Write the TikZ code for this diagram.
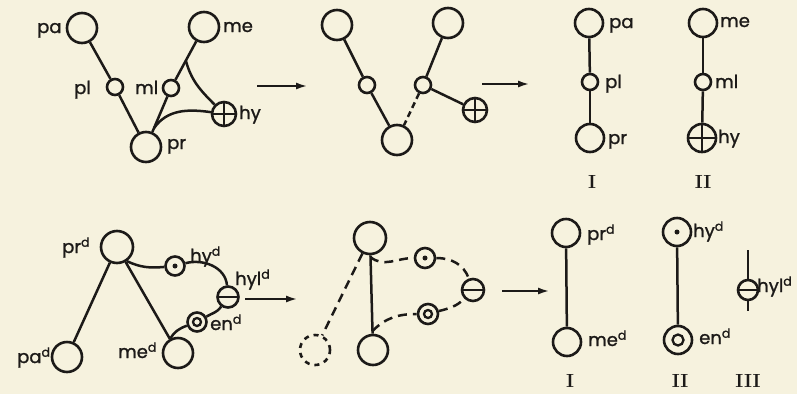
\documentclass[tikz,border=0pt]{standalone}
\usepackage{fontspec}
\newfontfamily\labfont{Poppins}[FakeBold=1.2]
\usetikzlibrary{arrows.meta,calc}
\definecolor{paper}{RGB}{246,242,222}
\definecolor{ink}{RGB}{28,26,24}
\tikzset{
  nd/.style={circle, draw=ink, line width=2.6pt, inner sep=0pt, minimum size=#1},
  withplus/.style={path picture={\draw[ink,line width=2.4pt] (path picture bounding box.north) -- (path picture bounding box.south) (path picture bounding box.west) -- (path picture bounding box.east);}},
  withminus/.style={path picture={\draw[ink,line width=2.4pt] (path picture bounding box.west) -- (path picture bounding box.east);}},
  withdot/.style={path picture={\fill[ink] (path picture bounding box.center) circle (2.5pt);}},
  withring/.style={path picture={\draw[ink,line width=2.3pt] (path picture bounding box.center) circle (#1);}},
  withring/.default=4.5pt,
  ln/.style={draw=ink, line width=2.5pt},
  dashln/.style={draw=ink, line width=2.5pt, dash pattern=on 9pt off 6pt},
  arr/.style={draw=ink, line width=2.4pt, -{Latex[length=12pt,width=7pt]}},
  lab/.style={font=\labfont\fontsize{18}{18}\selectfont, inner sep=0pt, anchor=base west, text=ink},
  num/.style={font=\bfseries\fontsize{19}{19}\selectfont, inner sep=0pt, anchor=base, text=ink},
}
\begin{document}
\begin{tikzpicture}[x=1pt,y=1pt]
\fill[paper] (0,0) rectangle (797,-394);
\useasboundingbox (0,0) rectangle (797,-394);

% ---------- top left ----------
\node[nd=30pt] (pa) at (82,-28) {};
\node[nd=30pt] (me) at (204,-27) {};
\node[nd=16pt] (pl) at (115,-87) {};
\node[nd=16pt] (ml) at (171,-88) {};
\node[nd=24pt,withplus] (hy) at (224,-114) {};
\node[nd=30pt] (pr) at (146,-147) {};
\draw[ln] (pa) -- (pl);
\draw[ln] (pl) -- (pr);
\draw[ln] (me) -- (ml);
\draw[ln] (ml) -- (pr);
\coordinate (b1) at ($(me)!0.55!(ml)$);
\coordinate (b2) at ($(ml)!0.68!(pr)$);
\draw[ln] (b1) to[out=-75,in=135] (hy);
\draw[ln] (b2) to[out=55,in=172] (hy);
\node[lab] (lpa) at (37,-33) {pa};
\node[lab] (lme) at (223,-32) {me};
\node[lab] (lpl) at (74,-94) {pl};
\node[lab] (lml) at (135,-94) {ml};
\node[lab] (lhy) at (239,-119) {hy};
\node[lab] (lpr) at (167,-149) {pr};

\coordinate (a1s) at (257,-86);
\coordinate (a1e) at (308,-86);
\draw[arr] (a1s) -- (a1e);

% ---------- top middle ----------
\node[nd=30pt] (m1) at (337,-25) {};
\node[nd=16pt] (m2) at (367,-85) {};
\node[nd=30pt] (m3) at (397,-140) {};
\node[nd=30pt] (m4) at (448,-23) {};
\node[nd=16pt] (m5) at (423,-85) {};
\node[nd=24pt,withplus] (m6) at (475,-110) {};
\draw[ln] (m1) -- (m2);
\draw[ln] (m2) -- (m3);
\draw[ln] (m4) -- (m5);
\draw[ln] (m5) -- (m6);
\draw[ln, dash pattern=on 6pt off 4pt] (m5) -- (m3);

\coordinate (a2s) at (482,-84);
\coordinate (a2e) at (530,-84);
\draw[arr] (a2s) -- (a2e);

% ---------- top right ----------
\node[nd=28pt] (rpa) at (589,-23) {};
\node[nd=16pt] (rpl) at (590,-82) {};
\node[nd=28pt] (rpr) at (590,-138) {};
\node[nd=28pt] (rme) at (703,-23) {};
\node[nd=16pt] (rml) at (703,-82) {};
\node[nd=28pt,withplus] (rhy) at (702,-138) {};
\draw[ln] (rpa) -- (rpl);
\draw[ln] (rpl) -- (rpr);
\draw[ln] (rme) -- (rml);
\draw[ln] (rml) -- (rhy);
\node[lab] (lrpa) at (609,-28) {pa};
\node[lab] (lrpl) at (605,-88) {pl};
\node[lab] (lrpr) at (608,-144) {pr};
\node[lab] (lrme) at (720,-27) {me};
\node[lab] (lrml) at (715,-88) {ml};
\node[lab] (lrhy) at (718,-143) {hy};
\node[num] (n1) at (592,-188) {I};
\node[num] (n2) at (703,-188) {II};

% ---------- bottom left ----------
\node[nd=32pt] (prd) at (117,-247) {};
\node[nd=30pt] (pad) at (67,-357) {};
\node[nd=30pt] (med) at (178,-353) {};
\node[nd=19pt,withdot] (hyd) at (175,-266) {};
\node[nd=21pt,withminus] (hyld) at (228,-297) {};
\node[nd=19pt,withring=4pt] (enD) at (197,-322) {};
\draw[ln] (prd) -- (pad);
\draw[ln] (prd) -- (med);
\draw[ln] (prd.-55) to[out=-25,in=185] (hyd);
\draw[ln] (hyd) to[out=15,in=95] (hyld);
\draw[ln] (hyld) to[out=-125,in=30] (enD);
\draw[ln] (enD) to[out=200,in=60] (med.118);
\node[lab] (lprd) at (62,-253) {pr\textsuperscript{d}};
\node[lab] (lpad) at (17,-363) {pa\textsuperscript{d}};
\node[lab] (lmed) at (118,-358) {me\textsuperscript{d}};
\node[lab] (lhyd) at (190,-262) {hy\textsuperscript{d}};
\node[lab] (lhyld) at (235,-285) {hyl\textsuperscript{d}};
\node[lab] (lend) at (210,-330) {en\textsuperscript{d}};

\coordinate (a3s) at (245,-299);
\coordinate (a3e) at (298,-299);
\draw[arr] (a3s) -- (a3e);

% ---------- bottom middle ----------
\node[nd=32pt] (tc) at (370,-238) {};
\node[nd=30pt] (bc) at (373,-350) {};
\node[nd=30pt, dash pattern=on 5pt off 5pt] (dc) at (315,-350) {};
\node[nd=20pt,withdot] (dt) at (425,-258) {};
\node[nd=20pt,withring=4pt] (rg) at (428,-314) {};
\node[nd=22pt,withminus] (mn) at (473,-290) {};
\draw[ln] (tc) -- (bc);
\draw[dashln] (tc) -- (dc);
\coordinate (c1) at ($(tc)!0.17!(bc)$);
\coordinate (c2) at ($(tc)!0.83!(bc)$);
\draw[dashln] (c1) to[out=-40,in=180] (dt);
\draw[dashln] (dt) to[out=0,in=110] (mn);
\draw[dashln] (c2) to[out=45,in=180] (rg);
\draw[dashln] (rg) to[out=15,in=-135] (mn);

\coordinate (a4s) at (502,-291);
\coordinate (a4e) at (550,-291);
\draw[arr] (a4s) -- (a4e);

% ---------- bottom right ----------
\node[nd=28pt] (rprd) at (566,-233) {};
\node[nd=28pt] (rmed) at (567,-342) {};
\node[nd=28pt,withdot] (rhyd) at (677,-232) {};
\node[nd=28pt,withring=5.5pt] (rend) at (678,-340) {};
\node[nd=20pt,withminus] (rhyl) at (748,-290) {};
\coordinate (t1) at (748,-250);
\coordinate (t2) at (748,-311);
\draw[ln] (rprd) -- (rmed);
\draw[ln] (rhyd) -- (rend);
\draw[ln] (t1) -- (rhyl);
\draw[ln] (rhyl) -- (t2);
\node[lab] (lrprd) at (587,-240) {pr\textsuperscript{d}};
\node[lab] (lrmed) at (588,-346) {me\textsuperscript{d}};
\node[lab] (lrhyd) at (693,-237) {hy\textsuperscript{d}};
\node[lab] (lrend) at (699,-344) {en\textsuperscript{d}};
\node[lab] (lrhyl) at (757,-292) {hyl\textsuperscript{d}};
\node[num] (n3) at (570,-387) {I};
\node[num] (n4) at (680,-387) {II};
\node[num] (n5) at (748,-387) {III};
\end{tikzpicture}
\end{document}
